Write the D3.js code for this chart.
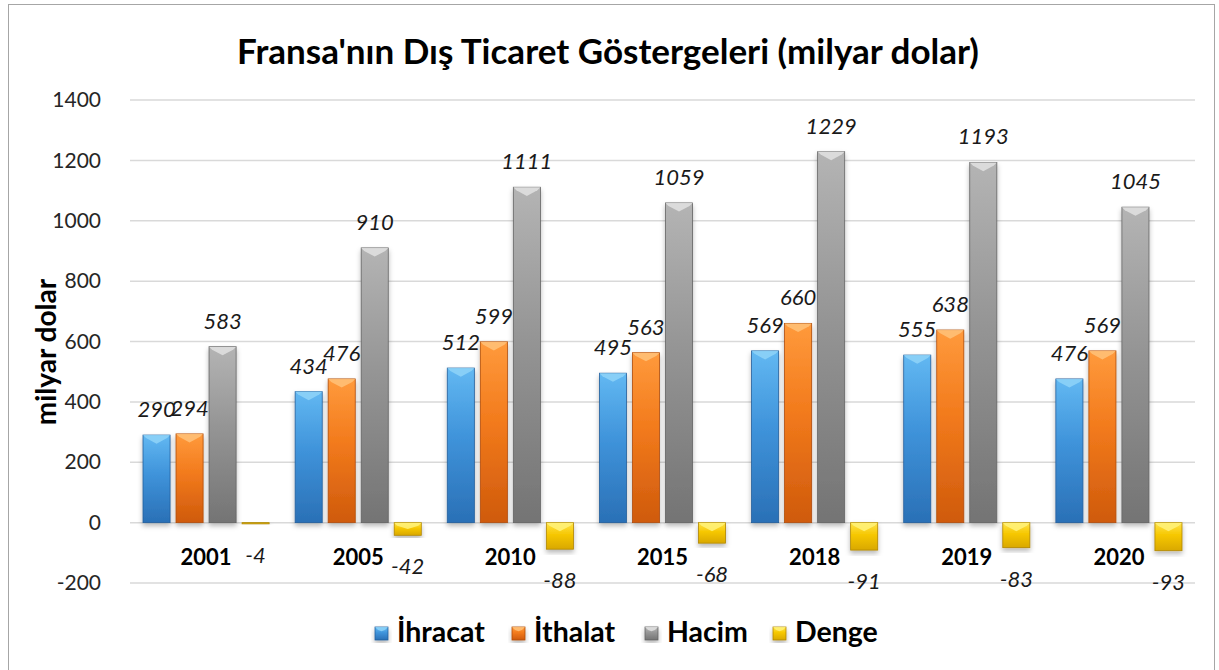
<!DOCTYPE html>
<html>
<head>
<meta charset="utf-8">
<script src="https://cdn.jsdelivr.net/npm/d3@7"></script>
<style>
  body { margin: 0; background: #fff; }
  text { font-family: Lato, "Open Sans", sans-serif; }
</style>
</head>
<body>
<div id="chart"></div>
<script>
let years = ["2001", "2005", "2010", "2015", "2018", "2019", "2020"];
let seriesNames = ["İhracat", "İthalat", "Hacim", "Denge"];
let ihracat = [290, 434, 512, 495, 569, 555, 476];
let ithalat = [294, 476, 599, 563, 660, 638, 569];
let hacim = [583, 910, 1111, 1059, 1229, 1193, 1045];
let denge = [-4, -42, -88, -68, -91, -83, -93];
let yTicks = [-200, 0, 200, 400, 600, 800, 1000, 1200, 1400];

let values = [ihracat, ithalat, hacim, denge];
let colors = [
  {top: "#62b8f2", mid: "#3f93da", bot: "#2a70b6", bevel: "#8fd3f8", edge: "#245f9c"},
  {top: "#ff9a3c", mid: "#f27a1c", bot: "#cf5a0c", bevel: "#ffc27a", edge: "#b04c08"},
  {top: "#b4b4b4", mid: "#959595", bot: "#747474", bevel: "#e2e2e2", edge: "#646464"},
  {top: "#ffe34a", mid: "#f6c700", bot: "#d9a800", bevel: "#fff27a", edge: "#b08600"}
];

let width = 1219, height = 670;
let svg = d3.select("#chart").append("svg")
  .attr("width", width)
  .attr("height", height);

let defs = svg.append("defs");
colors.forEach(function(c, i){
  let g = defs.append("linearGradient")
    .attr("id", "grad" + i)
    .attr("x1", 0).attr("y1", 0).attr("x2", 0).attr("y2", 1);
  g.append("stop").attr("offset", "0%").attr("stop-color", c.top);
  g.append("stop").attr("offset", "45%").attr("stop-color", c.mid);
  g.append("stop").attr("offset", "100%").attr("stop-color", c.bot);
});
let shadow = defs.append("filter").attr("id", "shadow")
  .attr("x", "-30%").attr("y", "-10%").attr("width", "160%").attr("height", "130%");
shadow.append("feDropShadow")
  .attr("dx", 0).attr("dy", 3).attr("stdDeviation", 2.5)
  .attr("flood-color", "#000").attr("flood-opacity", 0.28);

// outer frame
svg.append("rect")
  .attr("x", 8.5).attr("y", 4.5)
  .attr("width", 1206).attr("height", 680)
  .attr("fill", "none")
  .attr("stroke", "#a6a6a6");

let margin = {left: 130, right: 24, top: 100, bottom: 87};

let x = d3.scaleBand()
  .domain(years)
  .range([margin.left, width - margin.right]);

let xInner = d3.scaleBand()
  .domain(d3.range(4))
  .range([13, x.bandwidth() - 13])
  .paddingInner(0.18);

let y = d3.scaleLinear()
  .domain([-200, 1400])
  .range([height - margin.bottom, margin.top]);

// gridlines
svg.append("g")
  .selectAll("line")
  .data(yTicks)
  .enter()
  .append("line")
  .attr("x1", margin.left)
  .attr("x2", width - margin.right)
  .attr("y1", d => y(d))
  .attr("y2", d => y(d))
  .attr("stroke", "#d9d9d9")
  .attr("stroke-width", 1.5);

// y axis labels
let yAxis = d3.axisLeft(y)
  .tickValues(yTicks)
  .tickFormat(d => String(d))
  .tickSize(0)
  .tickPadding(0);
let yg = svg.append("g")
  .attr("transform", "translate(101,0)")
  .call(yAxis);
yg.select(".domain").remove();
yg.selectAll("text")
  .attr("font-size", "21px")
  .attr("fill", "#262626")
  .style("font-family", "Lato, sans-serif");

svg.append("text")
  .attr("transform", "translate(56,352) rotate(-90)")
  .attr("text-anchor", "middle")
  .attr("font-size", "28px")
  .attr("font-weight", "bold")
  .attr("fill", "#000")
  .text("milyar dolar");

// title
svg.append("text")
  .attr("x", 608)
  .attr("y", 64)
  .attr("text-anchor", "middle")
  .attr("font-size", "35px")
  .attr("font-weight", "bold")
  .attr("fill", "#000")
  .text("Fransa'nın Dış Ticaret Göstergeleri (milyar dolar)");

// bar drawing helper
function drawBar(g, bx, by, bw, bh, si) {
  let c = colors[si];
  g.append("rect")
    .attr("x", bx).attr("y", by)
    .attr("width", bw).attr("height", Math.max(bh, 1))
    .attr("fill", "url(#grad" + si + ")")
    .attr("stroke", c.edge)
    .attr("stroke-width", 0.8)
    .attr("filter", "url(#shadow)");
  if (bh > 6) {
    let b = Math.min(bw * 0.32, bh / 2);
    g.append("path")
      .attr("d", "M" + bx + "," + by +
        "L" + (bx + bw) + "," + by +
        "L" + (bx + bw - 3) + "," + (by + 3) +
        "L" + (bx + bw / 2) + "," + (by + b) +
        "L" + (bx + 3) + "," + (by + 3) + "Z")
      .attr("fill", c.bevel)
      .attr("opacity", 0.85);
  }
}

let groups = svg.selectAll(".year")
  .data(years)
  .enter()
  .append("g")
  .attr("class", "year")
  .attr("transform", d => "translate(" + x(d) + ",0)");

groups.each(function(yr, i){
  let g = d3.select(this);
  values.forEach(function(arr, si){
    let v = arr[i];
    let bx = xInner(si);
    let bw = xInner.bandwidth();
    let top = y(Math.max(v, 0));
    let bh = Math.abs(y(v) - y(0));
    drawBar(g, bx, top, bw, bh, si);
    g.append("text")
      .attr("x", bx + bw / 2)
      .attr("y", v >= 0 ? y(v) - 18 : y(v) + 39)
      .attr("text-anchor", "middle")
      .attr("font-size", "22px")
      .attr("font-style", "italic")
      .attr("fill", "#1a1a1a")
      .text(v);
  });
  g.append("text")
    .attr("x", x.bandwidth() / 2)
    .attr("y", y(0) + 42)
    .attr("text-anchor", "middle")
    .attr("font-size", "22px")
    .attr("font-weight", "bold")
    .attr("fill", "#000")
    .text(yr);
});

// legend
let legendX = [375, 512, 645, 773];
let legend = svg.selectAll(".legend")
  .data(seriesNames)
  .enter()
  .append("g")
  .attr("class", "legend")
  .attr("transform", (d, i) => "translate(" + legendX[i] + ",627)");

legend.each(function(name, i){
  let g = d3.select(this);
  drawBar(g, 0, 0, 13, 13, i);
  g.append("text")
    .attr("x", 22)
    .attr("y", 15)
    .attr("font-size", "28.5px")
    .attr("font-weight", "bold")
    .attr("fill", "#000")
    .text(name);
});
</script>
</body>
</html>
